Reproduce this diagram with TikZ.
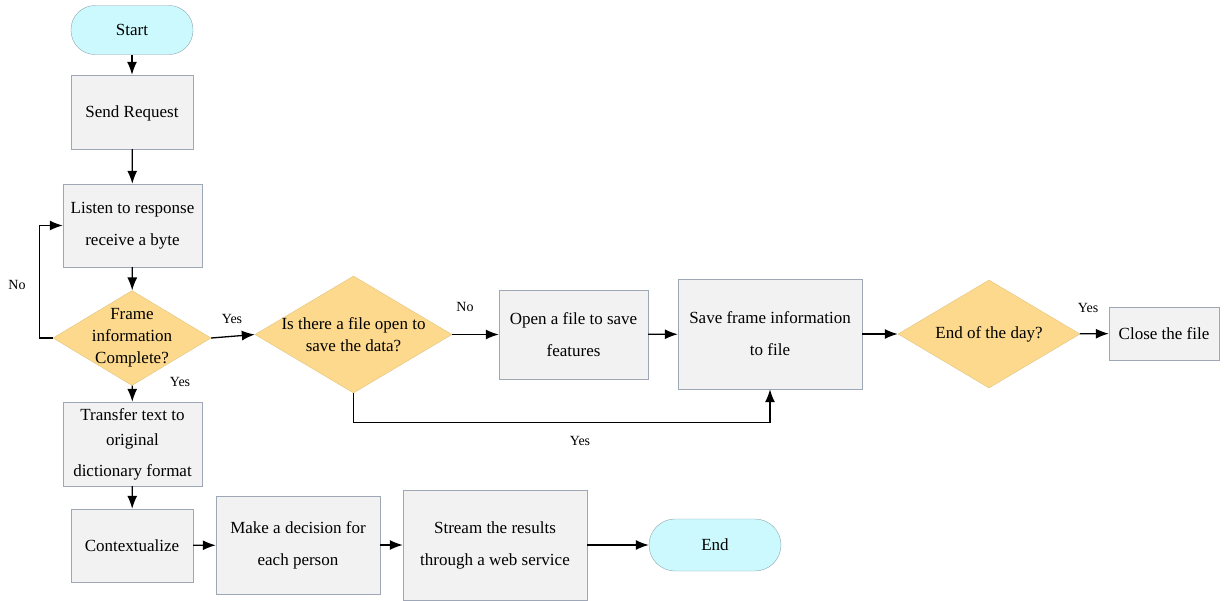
\documentclass[tikz,border=0pt]{standalone}
\usepackage{fontspec}
\setmainfont{Liberation Serif}
\usetikzlibrary{shapes.geometric}
\usetikzlibrary{arrows.meta,arrows}

\definecolor{boxfill}{HTML}{F2F2F2}
\definecolor{boxline}{HTML}{9EA7B5}
\definecolor{decfill}{HTML}{FCD98D}
\definecolor{decline}{HTML}{E2C37E}
\definecolor{termfill}{HTML}{CCF9FD}
\definecolor{termline}{HTML}{8FA5AE}

\begin{document}
\begin{tikzpicture}[x=1pt,y=-1pt,
    proc/.style={draw=boxline, fill=boxfill, align=center, inner sep=0pt,
        font=\fontsize{17}{32}\selectfont},
    term/.style={draw=termline, fill=termfill, rounded corners=24pt, inner sep=0pt,
        font=\fontsize{17}{20}\selectfont},
    decision/.style={diamond, draw=decline, fill=decfill, inner sep=0pt},
    dectext/.style={align=center, font=\fontsize{17}{22}\selectfont},
    answer/.style={font=\fontsize{14}{16}\selectfont},
    flow/.style={line width=1.3pt, -{Latex[length=13pt,width=10pt]}}]
    \useasboundingbox (0,0) rectangle (1225,600);
    % Main column
    \node[term, minimum width=122pt, minimum height=49pt] (start) at (132,30) {Start};
    \node[proc, minimum width=122pt, minimum height=74pt, text depth=0pt] (send) at (132,112) {Send Request};
    \node[proc, minimum width=139pt, minimum height=83pt] (listen) at (132.5,225.5) {Listen to response\\receive a byte};
    \node[decision, minimum width=158pt, minimum height=95pt,
        label={[dectext]center:Frame\\information\\Complete?}] (frame) at (132,338) {};
    \node[proc, minimum width=139pt, minimum height=84pt, font=\fontsize{17}{25}\selectfont] (transfer) at (132.5,444)
        {Transfer text to\\original\\[6pt]dictionary format};
    \node[proc, minimum width=122pt, minimum height=73pt] (context) at (132,545.5) {Contextualize};
    % Bottom row
    \node[proc, minimum width=164pt, minimum height=98pt] (decide) at (298,545) {Make a decision for\\each person};
    \node[proc, minimum width=184pt, minimum height=110pt] (stream) at (495,545) {Stream the results\\through a web service};
    \node[term, minimum width=132pt, minimum height=52pt, rounded corners=26pt] (finish) at (715,545) {End};
    % Saving row
    \node[decision, minimum width=197pt, minimum height=117pt,
        label={[dectext]center:Is there a file open to\\save the data?}] (isopen) at (353.5,334.5) {};
    \node[proc, minimum width=149pt, minimum height=89pt] (openfile) at (573.5,334.5) {Open a file to save\\features};
    \node[proc, minimum width=184pt, minimum height=110pt] (saveframe) at (770,334) {Save frame information\\to file};
    \node[decision, minimum width=182pt, minimum height=108pt,
        label={[dectext]center:End of the day?}] (endday) at (989,334) {};
    \node[proc, minimum width=110pt, minimum height=53pt] (closefile) at (1164,333.5) {Close the file};
    %
    % Edges down the column
    \draw[flow] (start) -- (send);
    \draw[flow] (send) -- (listen);
    \draw[flow] (listen) -- (frame);
    \draw[flow] (frame) -- (transfer);
    \draw[flow] (transfer) -- (context);
    % Edges along the bottom
    \draw[flow] (context) -- (decide);
    \draw[flow] (decide) -- (stream);
    \draw[flow] (stream) -- (finish);
    % Loop back
    \draw[flow] (frame.west) -- ++(-13,0) |- (listen.west);
    % Saving edges
    \draw[flow] (frame.east) -- (isopen.west);
    \draw[flow] (isopen) -- (openfile);
    \draw[flow] (openfile) -- (saveframe);
    \draw[flow] (isopen.south) -- ++(0,29) -| (saveframe.south);
    \draw[flow] (saveframe) -- (endday);
    \draw[flow] (endday) -- (closefile);
    %
    % Answers
    \node[answer] (nolisten) at (17,285) {No};
    \node[answer] (yesopen) at (232,319) {Yes};
    \node[answer] (yesdown) at (180,382) {Yes};
    \node[answer] (noopen) at (465,307) {No};
    \node[answer] (yessave) at (580,441) {Yes};
    \node[answer] (yesclose) at (1088,308) {Yes};
\end{tikzpicture}
\end{document}
